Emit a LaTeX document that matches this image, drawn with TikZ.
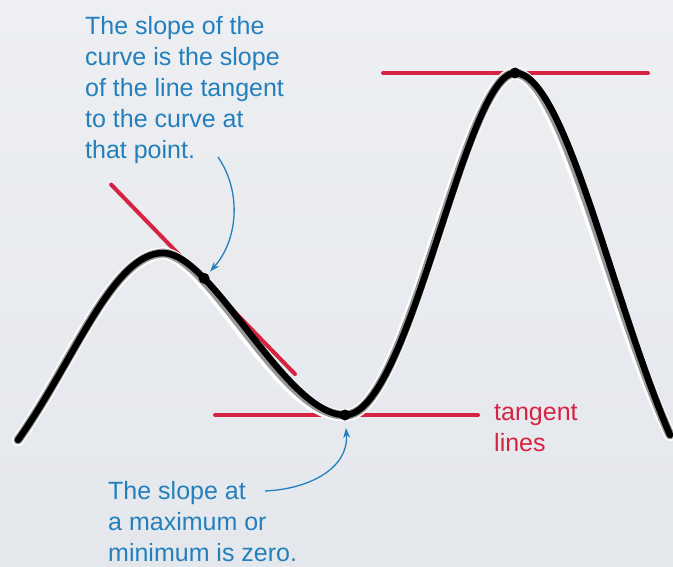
\documentclass[tikz,border=0pt]{standalone}
\usepackage{fontspec}
\setmainfont{Liberation Sans}
\usetikzlibrary{calc,arrows.meta}
\definecolor{noteblue}{RGB}{35,128,188}
\definecolor{tanred}{RGB}{214,35,65}
\definecolor{papertop}{RGB}{237,239,242}
\definecolor{paperbot}{RGB}{228,231,236}

\begin{document}
\begin{tikzpicture}[x=1pt, y=-1pt,
    curve/.style={line width=6.5pt, line cap=round, black},
    halo/.style={line width=12pt, line cap=round, white},
    blur/.style={line width=9pt, line cap=round, black!40},
    tangent/.style={line width=4pt, line cap=round, tanred},
    note/.style={text=noteblue, font=\fontsize{25}{31}\selectfont, align=left, inner sep=0pt},
    pointer/.style={-{Stealth[length=10pt,width=7pt]}, line width=1.3pt, noteblue}]
    \useasboundingbox (0,0) rectangle (673,567);
    \shade[top color=papertop, bottom color=paperbot] (0,0) rectangle (673,567);

    % points on the curve
    \coordinate (start) at (18,440);
    \coordinate (lmax) at (163,253);
    \coordinate (lmin) at (345,415);
    \coordinate (gmax) at (515,73);
    \coordinate (stop) at (670,435);
    \path (lmax) .. controls (213,253) and (285,415) .. (lmin)
        coordinate[pos=0.23] (ta) coordinate[pos=0.25] (tp) coordinate[pos=0.27] (tb);

    % tangent lines
    \draw[tangent] ($(tp)!132pt!(ta)$) -- ($(tp)!132pt!(tb)$);
    \draw[tangent] ($(lmin)+(-130,0)$) -- ($(lmin)+(133,0)$);
    \draw[tangent] ($(gmax)+(-132,0)$) -- ($(gmax)+(133,0)$);

    % the curve
    \begin{scope}[shift={(-4,5)}]
        \draw[halo] (start) .. controls (75,360) and (113,253) .. (lmax)
            .. controls (213,253) and (285,415) .. (lmin)
            .. controls (410,415) and (465,73) .. (gmax)
            .. controls (565,73) and (612,300) .. (stop);
    \end{scope}
    \begin{scope}[shift={(-2,2.5)}]
        \draw[blur] (start) .. controls (75,360) and (113,253) .. (lmax)
            .. controls (213,253) and (285,415) .. (lmin)
            .. controls (410,415) and (465,73) .. (gmax)
            .. controls (565,73) and (612,300) .. (stop);
    \end{scope}
    \draw[curve] (start) .. controls (75,360) and (113,253) .. (lmax)
        .. controls (213,253) and (285,415) .. (lmin)
        .. controls (410,415) and (465,73) .. (gmax)
        .. controls (565,73) and (612,300) .. (stop);
    \fill (tp) circle (5.5pt);
    \fill (lmin) circle (5.5pt);
    \fill (gmax) circle (5.5pt);

    % labels
    \node[note, anchor=north west] (topnote) at (85,16) {The slope of the\\curve is the slope\\of the line tangent\\to the curve at\\that point.};
    \node[note, anchor=north west] (botnote) at (108,481) {The slope at\\a maximum or\\minimum is zero.};
    \node[note, text=tanred, anchor=north west] (tanlabel) at (494,404) {tangent\\lines};

    \coordinate (from1) at (218,157);
    \coordinate (from2) at (265,491);
    \draw[pointer, shorten >=9pt] (from1) .. controls (242,192) and (238,240) .. (tp);
    \draw[pointer, shorten >=13pt] (from2) .. controls (310,489) and (349,468) .. (lmin);
\end{tikzpicture}
\end{document}
